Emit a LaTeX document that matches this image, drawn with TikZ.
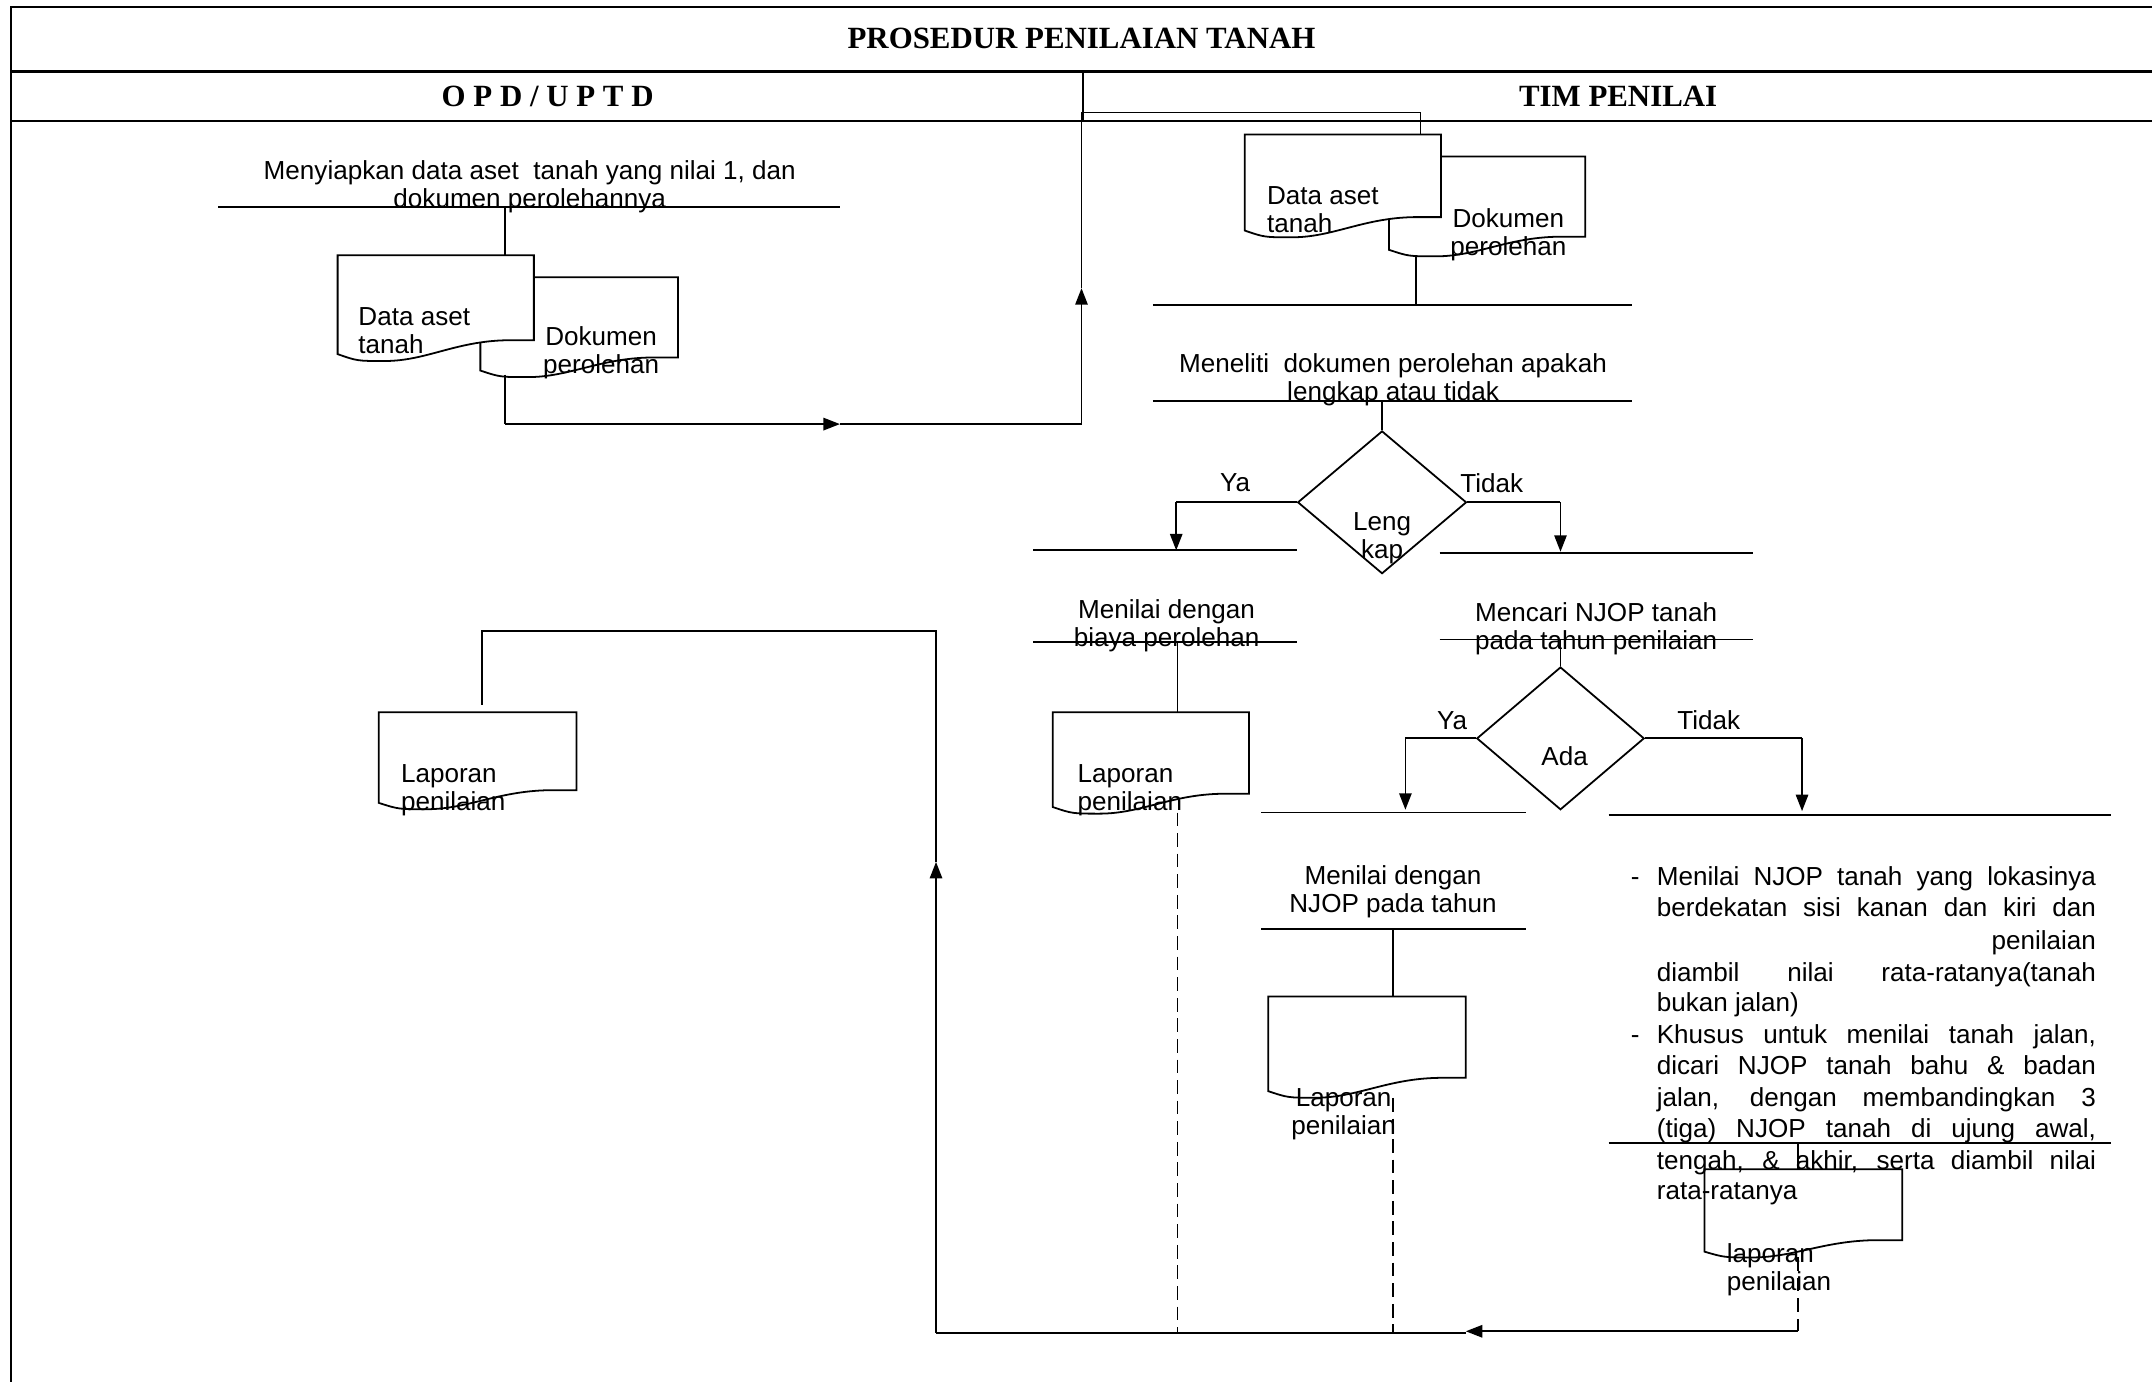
\documentclass[tikz,border=0pt]{standalone}
\usepackage{fontspec}
\setmainfont{Liberation Sans}
\newfontfamily\titlefont{Liberation Serif}
\usetikzlibrary{arrows.meta,shapes.geometric}

\tikzset{
  frame/.style={line width=1.8pt},
  flow/.style={line width=1.3pt},
  dashflow/.style={line width=1.3pt, dash pattern=on 10pt off 5pt},
  arr/.style={flow,-{Triangle[length=12pt,width=9pt]}},
  lbl/.style={inner sep=0pt, font=\fontsize{19}{20.5}\selectfont, align=center},
  lbll/.style={inner sep=0pt, font=\fontsize{19}{20.5}\selectfont, align=left},
  tline/.style={inner sep=0pt, anchor=base west, font=\fontsize{19}{23}\selectfont},
  hdr/.style={inner sep=0pt, font=\titlefont\bfseries\fontsize{22.5}{26}\selectfont},
  doc/.style={flow, fill=white},
  dec/.style={flow, draw, diamond, inner sep=0pt},
}

\newcommand{\mydoc}[5]{%
  \draw[doc] (#2,#3+#5) -- (#2,#3) -- (#2+#4,#3) -- (#2+#4,#3+0.86*#5) -- (#2+0.86*#4,#3+0.86*#5)
    .. controls (#2+0.6*#4,#3+0.87*#5) and (#2+0.45*#4,#3+1.07*#5) .. (#2+0.24*#4,#3+1.07*#5)
    .. controls (#2+0.1*#4,#3+1.07*#5) .. (#2,#3+#5) -- cycle;
  \coordinate (#1) at (#2+0.5*#4,#3+0.5*#5);
}

\begin{document}
\begin{tikzpicture}[x=1pt,y=-1pt]
\useasboundingbox (0,0) rectangle (1568,1007);

% ---------- frame ----------
\coordinate (fTR) at (1568,5);
\coordinate (fTL) at (8,5);
\coordinate (fBL) at (8,1007);
\draw[frame] (fTR) -- (fTL) -- (fBL);
\draw[frame] (8,52) -- (1568,52);
\draw[frame] (8,88) -- (1568,88);
\draw[line width=1.2pt] (789,52) -- (789,88);
\node[hdr] (title) at (788,28) {PROSEDUR PENILAIAN TANAH};
\node[hdr] (opd) at (399,70) {O P D / U P T D};
\node[hdr] (tim) at (1179,70) {TIM PENILAI};

% ---------- OPD column ----------
\node[lbl] (prep) at (386,136) {Menyiapkan data aset\ \ tanah yang nilai 1, dan\\dokumen perolehannya};
\coordinate (prepL) at (159,151);
\coordinate (prepR) at (612,151);
\draw[flow] (prepL) -- (prepR);
\coordinate (prepC) at (368,151);

\mydoc{dokA}{350}{202}{144}{68}
\mydoc{dataA}{246}{186}{143}{72}
\node[lbll, anchor=west] (dataAt) at (261,241) {Data aset\\tanah};
\node[lbl] (dokAt) at (438,257) {Dokumen\\perolehan};

\coordinate (dataAtop) at (368,186);
\draw[flow] (prepC) -- (dataAtop);

\coordinate (dokAbot) at (368,273);
\coordinate (c1) at (368,309);
\coordinate (m1) at (612,309);
\coordinate (c2) at (788,309);
\coordinate (m2) at (788,210);
\coordinate (c3) at (788,82);
\coordinate (c4) at (1035,82);
\coordinate (dataBtop) at (1035,98);
\draw[flow] (dokAbot) -- (c1);
\draw[arr] (c1) -- (m1);
\draw[flow] (m1) -- (c2);
\draw[arr] (c2) -- (m2);
\draw[flow] (m2) -- (c3) -- (c4) -- (dataBtop);

% ---------- TIM column ----------
\mydoc{dokB}{1012}{114}{143}{68}
\mydoc{dataB}{907}{98}{143}{70}
\node[lbll, anchor=west] (dataBt) at (923,153) {Data aset\\tanah};
\node[lbl] (dokBt) at (1099,171) {Dokumen\\perolehan};

\coordinate (dokBbot) at (1032,186);
\coordinate (l1C) at (1032,222);
\draw[flow] (dokBbot) -- (l1C);
\draw[flow] (840,222) -- (1189,222);

\node[lbl] (teliti) at (1015,277) {Meneliti\ \ dokumen perolehan apakah\\lengkap atau tidak};
\draw[flow] (840,292) -- (1189,292);
\coordinate (telitiC) at (1007,292);

\node[dec, minimum width=123pt, minimum height=104pt] (lengkap) at (1007,366) {};
\node[lbl] (lengkapt) at (1007,392) {Leng\\kap};
\draw[flow] (telitiC) -- (lengkap.north);

\node[lbl] (ya1) at (900,352) {Ya};
\node[lbl] (tidak1) at (1087,352) {Tidak};
\coordinate (ya1a) at (857,366);
\coordinate (ya1b) at (857,401);
\draw[flow] (lengkap.west) -- (ya1a);
\draw[arr] (ya1a) -- (ya1b);
\coordinate (td1a) at (1137,366);
\coordinate (td1b) at (1137,402);
\draw[flow] (lengkap.east) -- (td1a);
\draw[arr] (td1a) -- (td1b);

\draw[flow] (753,401) -- (945,401);
\draw[flow] (1049,403) -- (1277,403);

% left branch: biaya perolehan
\node[lbl] (biaya) at (850,456) {Menilai dengan\\biaya perolehan};
\draw[flow] (753,468) -- (945,468);
\coordinate (biayaC) at (858,468);
\mydoc{lapA}{767}{519}{143}{69}
\coordinate (lapAtop) at (858,519);
\draw[flow] (biayaC) -- (lapAtop);
\node[lbll, anchor=west] (lapAt) at (785,576) {Laporan\\penilaian};

% right branch: NJOP
\node[lbl] (cari) at (1163,458) {Mencari NJOP tanah\\pada tahun penilaian};
\draw[flow] (1049,466) -- (1277,466);
\coordinate (cariC) at (1137,466);
\node[dec, minimum width=122pt, minimum height=104pt] (ada) at (1137,538) {};
\node[lbl] (adat) at (1140,551) {Ada};
\draw[flow] (cariC) -- (ada.north);

\node[lbl] (ya2) at (1058,525) {Ya};
\node[lbl] (tidak2) at (1245,525) {Tidak};
\coordinate (ya2a) at (1024,538);
\coordinate (ya2b) at (1024,590);
\draw[flow] (ada.west) -- (ya2a);
\draw[arr] (ya2a) -- (ya2b);
\coordinate (td2a) at (1313,538);
\coordinate (td2b) at (1313,591);
\draw[flow] (ada.east) -- (td2a);
\draw[arr] (td2a) -- (td2b);

\draw[flow] (919,592) -- (1112,592);
\draw[flow] (1172,594) -- (1538,594);

\node[lbl] (njop) at (1015,650) {Menilai dengan\\NJOP pada tahun};
\draw[flow] (919,677) -- (1112,677);
\coordinate (njopC) at (1015,677);
\mydoc{lapB}{924}{726}{144}{69}
\coordinate (lapBtop) at (1015,726);
\draw[flow] (njopC) -- (lapBtop);
\node[lbl] (lapBt) at (979,812) {Laporan\\penilaian};

% explanation block
\draw[flow] (1172,833) -- (1538,833);
\coordinate (expC) at (1310,833);
\coordinate (lapCtop) at (1310,852);
\draw[flow] (expC) -- (lapCtop);
\mydoc{lapC}{1242}{852}{144}{60}
\node[lbll, anchor=west] (lapCt) at (1258,925) {laporan\\penilaian};

\node[tline] (d1) at (1188,645) {-};
\node[tline] (t1) at (1207,645) {\makebox[320pt][s]{Menilai NJOP tanah yang lokasinya}};
\node[tline] (t2) at (1207,668) {\makebox[320pt][s]{berdekatan sisi kanan dan kiri dan}};
\node[tline] (t3) at (1207,692) {\makebox[320pt][r]{penilaian}};
\node[tline] (t4) at (1207,715) {\makebox[320pt][s]{diambil nilai rata-ratanya(tanah}};
\node[tline] (t5) at (1207,737) {\makebox[320pt][l]{bukan jalan)}};
\node[tline] (d2) at (1188,760) {-};
\node[tline] (t6) at (1207,760) {\makebox[320pt][s]{Khusus untuk menilai tanah jalan,}};
\node[tline] (t7) at (1207,783) {\makebox[320pt][s]{dicari NJOP tanah bahu \& badan}};
\node[tline] (t8) at (1207,806) {\makebox[320pt][s]{jalan, dengan membandingkan 3}};
\node[tline] (t9) at (1207,829) {\makebox[320pt][s]{(tiga) NJOP tanah di ujung awal,}};
\node[tline] (t10) at (1207,852) {\makebox[320pt][s]{tengah, \& akhir, serta diambil nilai}};
\node[tline] (t11) at (1207,874) {\makebox[320pt][l]{rata-ratanya}};

% return flows
\coordinate (lapAbot) at (858,592);
\coordinate (lapBbot) at (1015,800);
\coordinate (lapCbot) at (1310,916);
\coordinate (bA) at (858,971);
\coordinate (bB) at (1015,971);
\coordinate (bC) at (1310,970);
\coordinate (bM) at (1068,970);
\coordinate (bL) at (682,971);
\coordinate (up1) at (682,628);
\coordinate (tl1) at (682,460);
\coordinate (tl2) at (351,460);
\coordinate (lapDtop) at (351,514);
\draw[dashflow] (lapAbot) -- (bA);
\draw[dashflow] (lapBbot) -- (bB);
\draw[dashflow] (lapCbot) -- (bC);
\draw[arr] (bC) -- (bM);
\draw[flow] (bM |- bL) -- (bL);
\draw[arr] (bL) -- (up1);
\draw[flow] (up1) -- (tl1) -- (tl2) -- (lapDtop);

\mydoc{lapD}{276}{519}{144}{66}
\node[lbll, anchor=west] (lapDt) at (292,576) {Laporan\\penilaian};

\end{tikzpicture}
\end{document}
